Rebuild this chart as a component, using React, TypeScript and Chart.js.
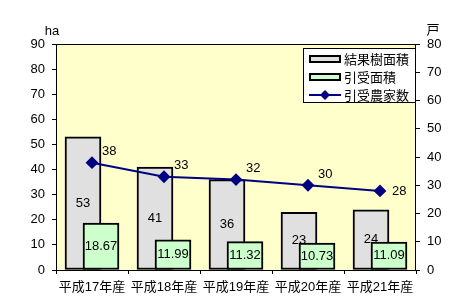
import React, { useEffect, useRef } from 'react';
import { Chart, registerables } from 'chart.js';

Chart.register(...registerables);

const categories = ['平成17年産', '平成18年産', '平成19年産', '平成20年産', '平成21年産'];
const fruitArea = [53, 41, 36, 23, 24];
const acceptedArea = [18.67, 11.99, 11.32, 10.73, 11.09];
const farmers = [38, 33, 32, 30, 28];
const seriesNames = ['結果樹面積', '引受面積', '引受農家数'];
const leftUnit = 'ha';
const rightUnit = '戸';

const FONT = '"Liberation Sans", "Noto Sans CJK JP", sans-serif';
const GREY = '#E0E0E0';
const GREEN = '#CCFFCC';
const NAVY = '#000080';
const BG = '#FFFFCC';

const framePlugin = {
  id: 'frame',
  beforeDatasetsDraw(chart: any) {
    const { ctx, chartArea: a } = chart;
    ctx.save();
    ctx.strokeStyle = '#000';
    ctx.lineWidth = 1;
    ctx.strokeRect(a.left + 0.5, a.top + 0.5, a.right - a.left - 1, a.bottom - a.top);
    ctx.restore();
  },
  beforeDraw(chart: any) {
    const { ctx, chartArea: a } = chart;
    ctx.save();
    ctx.fillStyle = BG;
    ctx.fillRect(a.left, a.top, a.right - a.left, a.bottom - a.top);
    ctx.restore();
  },
};

const reorderPlugin = {
  id: 'reorder',
  beforeDatasetDraw(chart: any, args: any) {
    if (args.index === 1) return false;
  },
  afterDatasetDraw(chart: any, args: any) {
    if (args.index === 0) {
      chart.getDatasetMeta(1).controller.draw();
    }
  },
};

const labelPlugin = {
  id: 'labels',
  afterDatasetsDraw(chart: any) {
    const { ctx } = chart;
    ctx.save();
    ctx.font = `13px ${FONT}`;
    ctx.fillStyle = '#000';
    ctx.textBaseline = 'middle';
    ctx.textAlign = 'center';
    const m0 = chart.getDatasetMeta(0);
    m0.data.forEach((el: any, i: number) => {
      const y = (el.y + el.base) / 2;
      ctx.fillText(String(fruitArea[i]), el.x, y);
    });
    const m1 = chart.getDatasetMeta(1);
    m1.data.forEach((el: any, i: number) => {
      const y = (el.y + el.base) / 2;
      ctx.fillText(acceptedArea[i].toFixed(2), el.x, y);
    });
    const m2 = chart.getDatasetMeta(2);
    ctx.textAlign = 'left';
    m2.data.forEach((el: any, i: number) => {
      const last = i === m2.data.length - 1;
      const x = el.x + (last ? 12 : 10);
      const y = el.y + (last ? 1 : -11);
      ctx.fillText(String(farmers[i]), x, y);
    });
    ctx.restore();
  },
};

const legendPlugin = {
  id: 'customLegend',
  afterDraw(chart: any) {
    const { ctx, chartArea: a } = chart;
    const w = 113;
    const h = 55;
    const left = a.right - w;
    const top = a.top + 4;
    ctx.save();
    ctx.fillStyle = '#fff';
    ctx.fillRect(left, top, w, h);
    ctx.strokeStyle = '#000';
    ctx.lineWidth = 1;
    ctx.strokeRect(left + 0.5, top + 0.5, w - 1, h - 1);
    ctx.font = `13px ${FONT}`;
    ctx.textBaseline = 'middle';
    ctx.textAlign = 'left';
    const rows = [top + 11, top + 29, top + 47];
    const fills = [GREY, GREEN];
    for (let i = 0; i < 2; i++) {
      ctx.fillStyle = fills[i];
      ctx.fillRect(left + 7, rows[i] - 3, 30, 6);
      ctx.strokeStyle = '#000';
      ctx.lineWidth = 2;
      ctx.strokeRect(left + 7, rows[i] - 3, 30, 6);
    }
    ctx.strokeStyle = NAVY;
    ctx.lineWidth = 2;
    ctx.beginPath();
    ctx.moveTo(left + 6, rows[2]);
    ctx.lineTo(left + 38, rows[2]);
    ctx.stroke();
    ctx.fillStyle = NAVY;
    ctx.beginPath();
    const cx = left + 22;
    const cy = rows[2];
    ctx.moveTo(cx, cy - 5);
    ctx.lineTo(cx + 5, cy);
    ctx.lineTo(cx, cy + 5);
    ctx.lineTo(cx - 5, cy);
    ctx.closePath();
    ctx.fill();
    ctx.fillStyle = '#000';
    seriesNames.forEach((n, i) => ctx.fillText(n, left + 41, rows[i] + 1));
    ctx.textAlign = 'center';
    ctx.fillText(leftUnit, a.left - 4, a.top - 13);
    ctx.fillText(rightUnit, a.right + 17, a.top - 14);
    ctx.restore();
  },
};

export default function App() {
  const ref = useRef<HTMLCanvasElement>(null);
  useEffect(() => {
    document.body.style.margin = '0';
    Chart.defaults.font.family = FONT;
    Chart.defaults.font.size = 13;
    Chart.defaults.color = '#000';
    const chart = new Chart(ref.current!, {
      type: 'bar',
      data: {
        labels: categories,
        datasets: [
          {
            type: 'bar',
            label: seriesNames[0],
            data: fruitArea,
            backgroundColor: GREY,
            borderColor: '#000',
            borderWidth: 2,
            borderSkipped: false,
            yAxisID: 'y',
            categoryPercentage: 0.5,
            barPercentage: 2,
          } as any,
          {
            type: 'bar',
            label: seriesNames[1],
            data: acceptedArea,
            backgroundColor: GREEN,
            borderColor: '#000',
            borderWidth: 2,
            borderSkipped: false,
            yAxisID: 'y',
            categoryPercentage: 0.5,
            barPercentage: 2,
          } as any,
          {
            type: 'line',
            label: seriesNames[2],
            data: farmers,
            borderColor: NAVY,
            backgroundColor: NAVY,
            borderWidth: 2,
            pointStyle: 'rectRot',
            pointRadius: 5,
            pointBackgroundColor: NAVY,
            pointBorderColor: NAVY,
            yAxisID: 'y2',
            order: -1,
            tension: 0,
          } as any,
        ],
      },
      options: {
        responsive: false,
        animation: false,
        layout: { padding: { top: 44, left: 0, right: 0, bottom: 0 } },
        plugins: { legend: { display: false }, tooltip: { enabled: false } },
        scales: {
          x: {
            grid: { drawOnChartArea: false, drawTicks: true, tickLength: 4, color: '#000', offset: true },
            border: { display: false },
            ticks: { padding: 6, maxRotation: 0, autoSkip: false, font: { size: 13 } },
            afterFit: (s: any) => { s.height = 34; },
          },
          y: {
            position: 'left',
            min: 0,
            max: 90,
            ticks: { stepSize: 10, padding: 7 },
            grid: { drawOnChartArea: false, drawTicks: true, tickLength: 4, color: '#000' },
            border: { display: false },
            afterFit: (s: any) => { s.width = 56; },
          },
          y2: {
            position: 'right',
            min: 0,
            max: 80,
            ticks: { stepSize: 10, padding: 7 },
            grid: { drawOnChartArea: false, drawTicks: true, tickLength: 4, color: '#000' },
            border: { display: false },
            afterFit: (s: any) => { s.width = 49; },
          },
        },
      } as any,
      plugins: [framePlugin, reorderPlugin, labelPlugin, legendPlugin],
    });
    return () => chart.destroy();
  }, []);
  return <canvas ref={ref} width={465} height={304} style={{ display: 'block' }} />;
}
